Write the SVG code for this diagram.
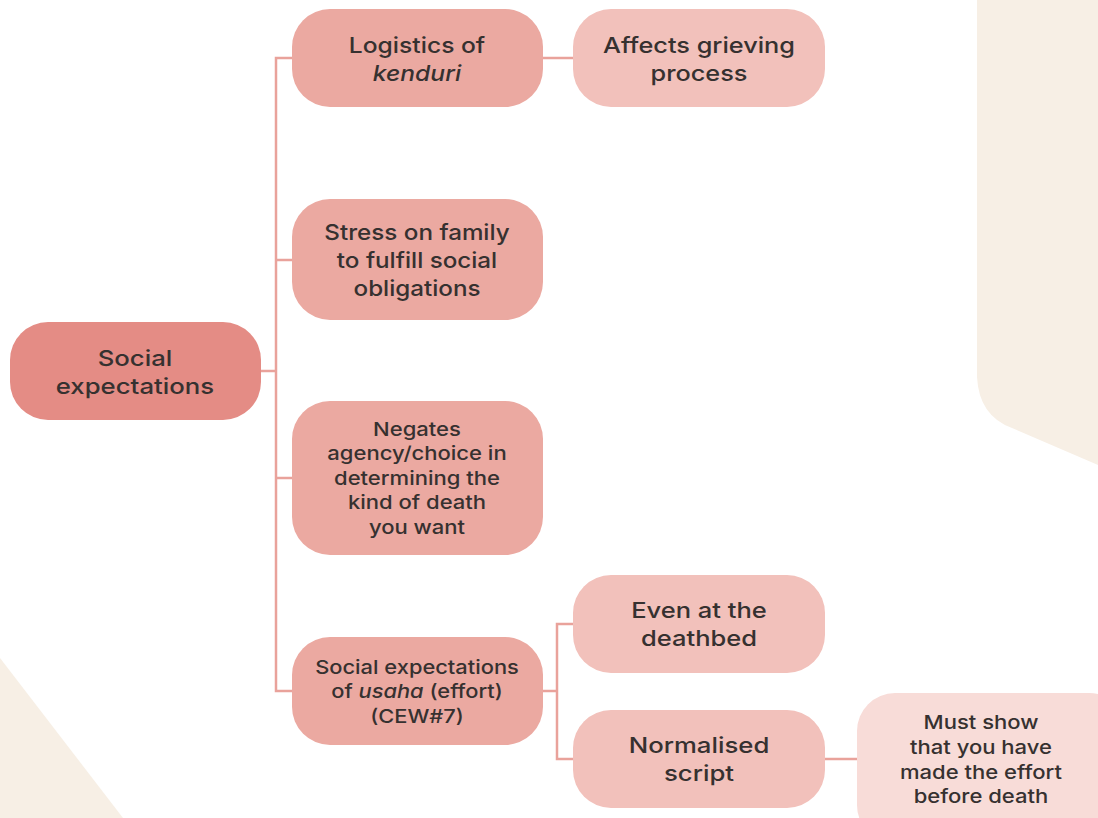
<svg xmlns="http://www.w3.org/2000/svg" width="1098" height="818" viewBox="0 0 1098 818">
  <style>
    .bg { fill: #f7efe5; }
    .node-0 { fill: #e48c85; }
    .node-1 { fill: #eba9a1; }
    .node-2 { fill: #f2c1bb; }
    .node-3 { fill: #f8dcd8; }
    .link { fill: none; stroke: #e9a29b; stroke-width: 2.5; }
    text { font-family: Inter, "Open Sans", sans-serif; font-weight: 500; fill: #363130; text-anchor: middle; }
    .lg { font-size: 22px; }
    .md { font-size: 19px; }
    .it { font-style: italic; }
  </style>

  <rect width="1098" height="818" fill="#ffffff"/>

  <!-- decorative backdrop shapes -->
  <path class="bg" d="M977,0 V377 Q979,416 1012,428 L1098,465 V0 Z"/>
  <polygon class="bg" points="0,658 123,818 0,818"/>

  <!-- connectors -->
  <g id="connectors">
    <path class="link" d="M260,371 H276"/>
    <path class="link" d="M292,58 H276 V691 H292"/>
    <path class="link" d="M276,260 H292"/>
    <path class="link" d="M276,478 H292"/>
    <path class="link" d="M543,58 H573"/>
    <path class="link" d="M543,691 H557"/>
    <path class="link" d="M573,624 H557 V759 H573"/>
    <path class="link" d="M825,759 H857"/>
  </g>

  <!-- labels are set in a slightly widened face: each label group is centred on its node and stretched horizontally -->
  <g id="social-expectations">
    <rect class="node-0" x="10" y="322" width="251" height="98" rx="38"/>
    <g transform="translate(135 0) scale(1.17 1)">
      <text class="lg" x="0" y="366">Social</text>
      <text class="lg" x="0" y="394">expectations</text>
    </g>
  </g>

  <g id="logistics-kenduri">
    <rect class="node-1" x="292" y="9" width="251" height="98" rx="38"/>
    <g transform="translate(417 0) scale(1.12 1)">
      <text class="lg" x="0" y="53">Logistics of</text>
      <text class="lg it" x="0" y="81">kenduri</text>
    </g>
  </g>

  <g id="affects-grieving">
    <rect class="node-2" x="573" y="9" width="252" height="98" rx="38"/>
    <g transform="translate(699 0) scale(1.15 1)">
      <text class="lg" x="0" y="53">Affects grieving</text>
      <text class="lg" x="0" y="81">process</text>
    </g>
  </g>

  <g id="stress-on-family">
    <rect class="node-1" x="292" y="199" width="251" height="121" rx="38"/>
    <g transform="translate(417 0) scale(1.1 1)">
      <text class="lg" x="0" y="240">Stress on family</text>
      <text class="lg" x="0" y="268">to fulfill social</text>
      <text class="lg" x="0" y="296">obligations</text>
    </g>
  </g>

  <g id="negates-agency">
    <rect class="node-1" x="292" y="401" width="251" height="154" rx="38"/>
    <g transform="translate(417 0) scale(1.16 1)">
      <text class="md" x="0" y="436">Negates</text>
      <text class="md" x="0" y="460">agency/choice in</text>
      <text class="md" x="0" y="485">determining the</text>
      <text class="md" x="0" y="509">kind of death</text>
      <text class="md" x="0" y="534">you want</text>
    </g>
  </g>

  <g id="usaha-expectations">
    <rect class="node-1" x="292" y="637" width="251" height="108" rx="38"/>
    <g transform="translate(417 0) scale(1.15 1)">
      <text class="md" x="0" y="674">Social expectations</text>
      <text class="md" x="0" y="698">of <tspan class="it">usaha</tspan> (effort)</text>
      <text class="md" x="0" y="723">(CEW#7)</text>
    </g>
  </g>

  <g id="even-at-deathbed">
    <rect class="node-2" x="573" y="575" width="252" height="98" rx="38"/>
    <g transform="translate(699 0) scale(1.16 1)">
      <text class="lg" x="0" y="618">Even at the</text>
      <text class="lg" x="0" y="646">deathbed</text>
    </g>
  </g>

  <g id="normalised-script">
    <rect class="node-2" x="573" y="710" width="252" height="98" rx="38"/>
    <g transform="translate(699 0) scale(1.17 1)">
      <text class="lg" x="0" y="753">Normalised</text>
      <text class="lg" x="0" y="781">script</text>
    </g>
  </g>

  <g id="must-show-effort">
    <rect class="node-3" x="857" y="693" width="270" height="150" rx="38"/>
    <g transform="translate(981 0) scale(1.16 1)">
      <text class="md" x="0" y="729">Must show</text>
      <text class="md" x="0" y="754">that you have</text>
      <text class="md" x="0" y="779">made the effort</text>
      <text class="md" x="0" y="803">before death</text>
    </g>
  </g>
</svg>
